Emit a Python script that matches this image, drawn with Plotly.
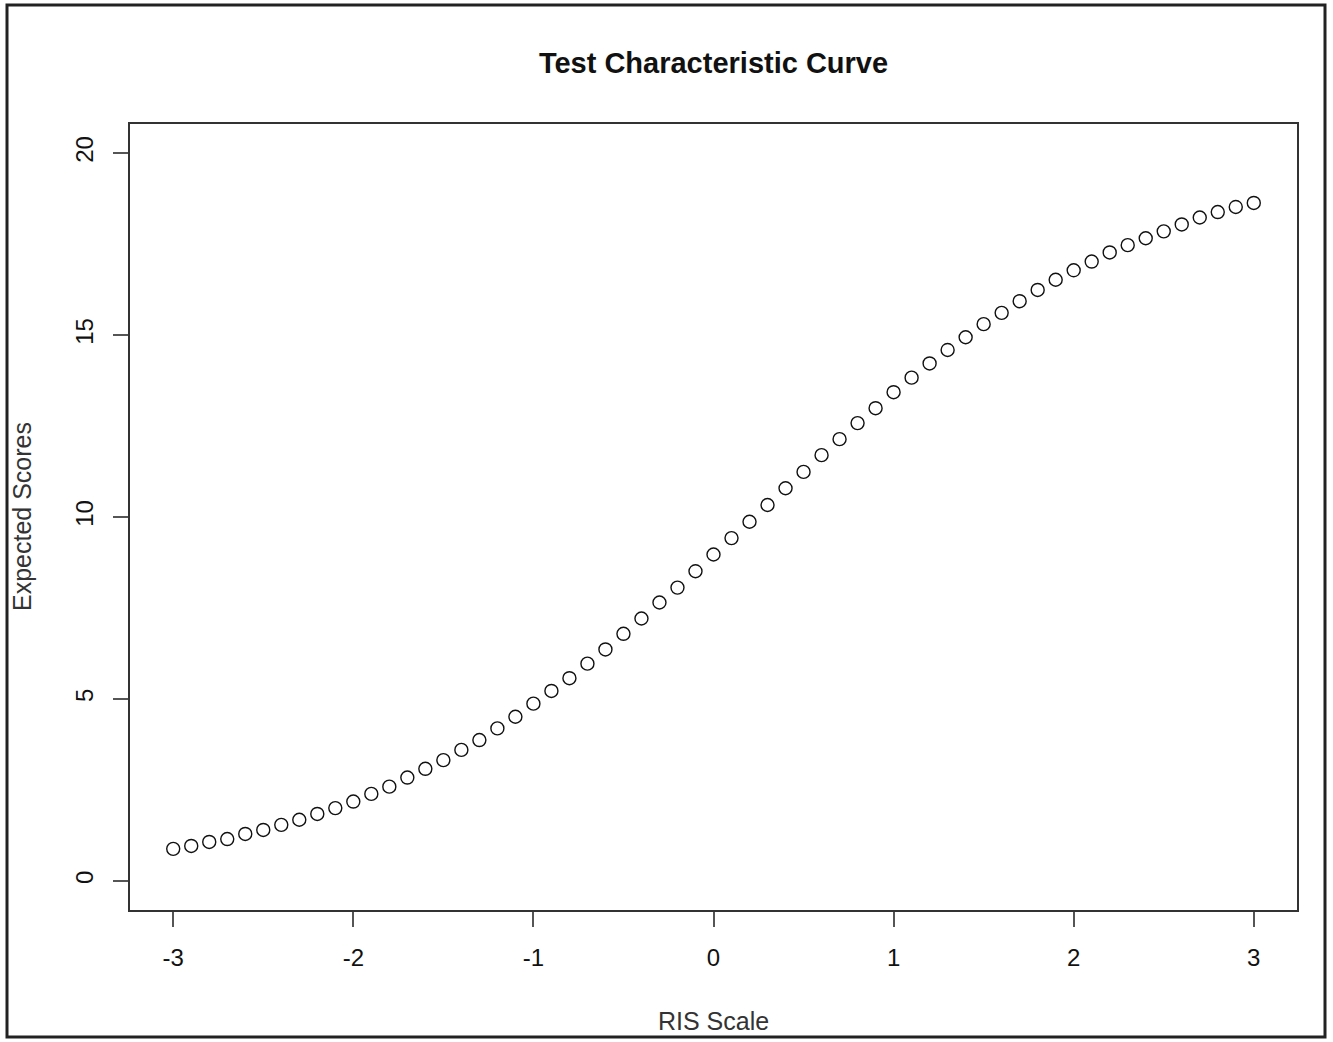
import plotly.graph_objects as go

# Data
theta = [-3.0, -2.9, -2.8, -2.7, -2.6, -2.5, -2.4, -2.3, -2.2, -2.1,
         -2.0, -1.9, -1.8, -1.7, -1.6, -1.5, -1.4, -1.3, -1.2, -1.1,
         -1.0, -0.9, -0.8, -0.7, -0.6, -0.5, -0.4, -0.3, -0.2, -0.1,
         0.0, 0.1, 0.2, 0.3, 0.4, 0.5, 0.6, 0.7, 0.8, 0.9,
         1.0, 1.1, 1.2, 1.3, 1.4, 1.5, 1.6, 1.7, 1.8, 1.9,
         2.0, 2.1, 2.2, 2.3, 2.4, 2.5, 2.6, 2.7, 2.8, 2.9, 3.0]
expected_scores = [0.88, 0.96, 1.07, 1.15, 1.29, 1.40, 1.54, 1.68, 1.84, 2.00,
                   2.18, 2.39, 2.59, 2.84, 3.08, 3.32, 3.60, 3.87, 4.19, 4.51,
                   4.87, 5.22, 5.57, 5.97, 6.36, 6.79, 7.21, 7.65, 8.06, 8.51,
                   8.97, 9.42, 9.87, 10.33, 10.79, 11.24, 11.70, 12.14, 12.58, 12.99,
                   13.43, 13.83, 14.22, 14.59, 14.94, 15.30, 15.61, 15.93, 16.24, 16.52,
                   16.78, 17.02, 17.27, 17.47, 17.66, 17.85, 18.04, 18.23, 18.38, 18.52, 18.63]
x_ticks = [-3, -2, -1, 0, 1, 2, 3]
y_ticks = [0, 5, 10, 15, 20]

W, H = 1333, 1042
L, R, T, B = 130, 1297, 124, 910
PW, PH = R - L, B - T


def px(xp):
    return (xp - L) / PW


def py(yp):
    return (B - yp) / PH


fig = go.Figure()
fig.add_trace(go.Scatter(
    x=theta, y=expected_scores, mode="markers",
    marker=dict(symbol="circle-open", size=13, color="#111",
                line=dict(width=1.4, color="#111")),
    showlegend=False, hoverinfo="x+y",
))

font_family = "Liberation Sans, Arial, Helvetica, sans-serif"

fig.update_layout(
    width=W, height=H, autosize=False,
    margin=dict(l=L, r=W - R, t=T, b=H - B, pad=0),
    paper_bgcolor="white", plot_bgcolor="white",
    font=dict(family=font_family, color="#111"),
    title=dict(text="<b>Test Characteristic Curve</b>",
               x=(L + R) / 2 / W, xanchor="center",
               y=1 - 63 / H, yanchor="middle",
               font=dict(size=29, color="#111", family=font_family)),
    xaxis=dict(range=[-3.24, 3.24], tickvals=x_ticks,
               ticktext=[str(v) for v in x_ticks],
               showgrid=False, zeroline=False,
               showline=True, mirror=True, linecolor="#333", linewidth=2,
               ticks="outside", ticklen=15, tickwidth=1.5, tickcolor="#555",
               tickfont=dict(size=24, color="#111"),
               ticklabelstandoff=10),
    yaxis=dict(range=[-0.8, 20.8], tickvals=y_ticks,
               ticktext=[str(v) for v in y_ticks],
               showgrid=False, zeroline=False,
               showline=True, mirror=True, linecolor="#333", linewidth=2,
               ticks="outside", ticklen=15, tickwidth=1.5, tickcolor="#555",
               tickangle=-90,
               tickfont=dict(size=24, color="#111"),
               ticklabelstandoff=10),
    annotations=[
        dict(text="RIS Scale", xref="paper", yref="paper",
             x=0.5, y=py(1021), xanchor="center", yanchor="middle",
             showarrow=False, font=dict(size=25, color="#333")),
        dict(text="Expected Scores", xref="paper", yref="paper",
             x=px(22), y=0.5, xanchor="center", yanchor="middle",
             textangle=-90, showarrow=False,
             font=dict(size=25, color="#333")),
    ],
    shapes=[
        dict(type="rect", xref="paper", yref="paper",
             x0=px(7), x1=px(1325), y0=py(1037), y1=py(5),
             line=dict(color="#222", width=3), fillcolor="rgba(0,0,0,0)"),
    ],
)

fig.write_html(
    "out.html",
    config={"displayModeBar": False},
    post_script="document.body.style.margin='0';document.body.style.overflow='hidden';",
)
